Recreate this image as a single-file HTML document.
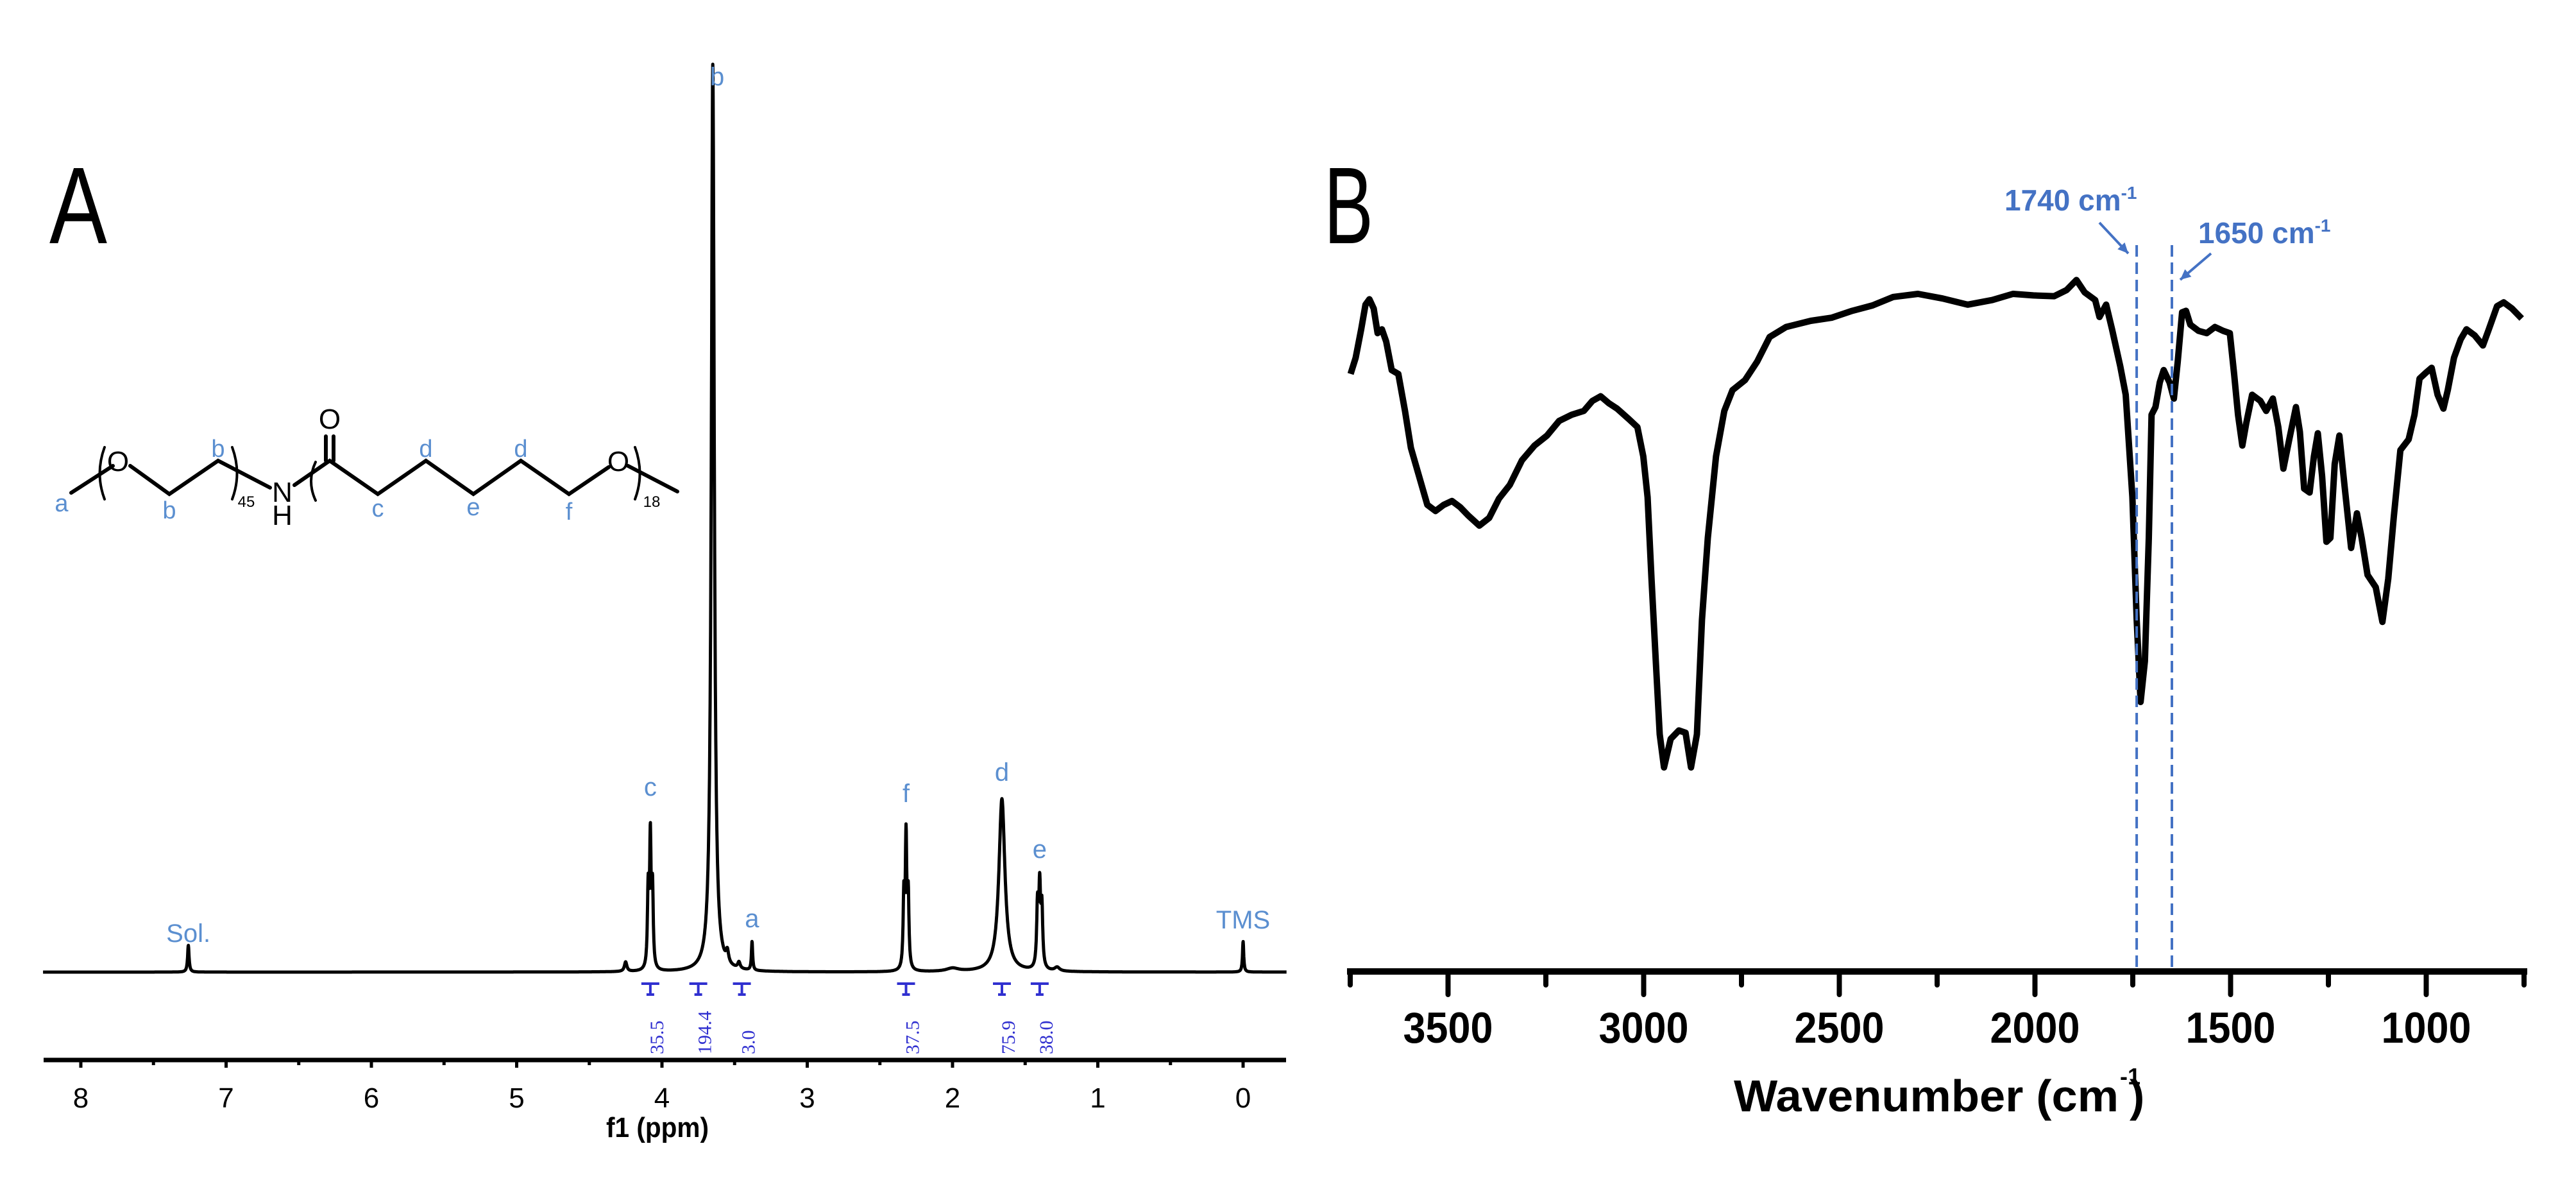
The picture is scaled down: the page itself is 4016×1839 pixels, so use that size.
<!DOCTYPE html>
<html><head><meta charset="utf-8"><style>
html,body{margin:0;padding:0;background:#fff;}
svg{display:block;font-family:"Liberation Sans",sans-serif;}
</style></head><body>
<svg id="fig" width="4016" height="1839" viewBox="0 0 4016 1839" xmlns="http://www.w3.org/2000/svg">
<rect width="4016" height="1839" fill="#fff"/>
<text x="77" y="379" font-size="170" textLength="90" lengthAdjust="spacingAndGlyphs">A</text>
<text x="2064" y="379" font-size="170" textLength="77" lengthAdjust="spacingAndGlyphs">B</text>

<g stroke="#000" stroke-width="6" fill="none" stroke-linecap="round">
<polyline points="111,768 176,726"/>
<polyline points="203,726 264,770 340,718 421,760"/>
<polyline points="459,756 514,718 589,770 664,718 738,770 812,718 887,770 949,728"/>
<line x1="979" y1="726" x2="1056" y2="766"/>
<line x1="508" y1="718" x2="508" y2="680"/><line x1="520" y1="718" x2="520" y2="680"/>
<path d="M163,697 Q148,738 163,778" stroke-width="4"/>
<path d="M362,697 Q377,738 362,778" stroke-width="4"/>
<path d="M492,720 Q478,750 492,780" stroke-width="4"/>
<path d="M990,697 Q1005,738 990,778" stroke-width="4"/>
</g>
<g font-size="44" text-anchor="middle">
<text x="184" y="734">O</text><text x="440" y="782">N</text><text x="440" y="818">H</text>
<text x="514" y="668">O</text><text x="964" y="734">O</text>
<text x="384" y="790" font-size="24">45</text><text x="1016" y="790" font-size="24">18</text>
</g>
<g font-size="38" fill="#5b8fd0" text-anchor="middle">
<text x="96" y="797">a</text><text x="264" y="808">b</text><text x="340" y="712">b</text>
<text x="589" y="805">c</text><text x="664" y="712">d</text><text x="738" y="803">e</text>
<text x="812" y="712">d</text><text x="887" y="810">f</text>
</g>

<g id="nmr"></g>
<g id="ir"></g>
</svg>
<script>
const NS="http://www.w3.org/2000/svg";
// ---- NMR data ----
const nmrPeakPpm=[7.26,4.25,4.095,4.08,4.065,3.65,3.55,3.47,3.38,2.335,2.32,2.305,2.0,1.66,1.415,1.40,1.385,1.28,0.0];
const nmrPeakHeight=[42,15,120,200,120,1417,18,10,45,110,200,110,5,270,95,120,90,6,48];
const nmrPeakWidth=[0.006,0.01,0.006,0.006,0.006,0.012,0.01,0.01,0.005,0.006,0.006,0.006,0.05,0.025,0.007,0.007,0.007,0.02,0.005];
const nmrTicks=[8,7,6,5,4,3,2,1,0];
const nmrPeakLabels=["Sol.","c","b","a","f","d","e","TMS"];
const nmrPeakLabelPpm=[7.26,4.08,3.62,3.38,2.32,1.66,1.40,0.0];
const nmrPeakLabelHeight=[47,275,1382,70,265,298,178,68];
const integralValues=["35.5","194.4","3.0","37.5","75.9","38.0"];
const integralPpm=[4.08,3.75,3.45,2.32,1.66,1.40];
// ---- IR data ----
const irWavenumber=[3749,3736,3722,3711,3701,3690,3680,3669,3658,3644,3627,3610,3595,3574,3553,3532,3511,3490,3469,3448,3420,3395,3370,3342,3311,3279,3247,3216,3184,3153,3131,3110,3089,3068,3037,3016,3001,2990,2980,2969,2959,2948,2931,2910,2893,2879,2864,2851,2836,2815,2794,2773,2741,2710,2678,2636,2573,2520,2467,2415,2362,2299,2236,2172,2109,2056,2004,1951,1919,1894,1873,1846,1835,1818,1803,1782,1768,1751,1740,1730,1719,1709,1702,1692,1681,1671,1656,1645,1635,1624,1614,1603,1582,1561,1540,1519,1502,1491,1481,1470,1460,1445,1424,1409,1392,1378,1365,1350,1333,1323,1312,1298,1287,1277,1266,1255,1245,1234,1222,1209,1192,1177,1165,1150,1129,1112,1097,1083,1066,1045,1030,1017,1000,986,971,956,945,929,912,897,876,855,840,819,802,781,756];
const irTransmittance=[77.6,79.7,83.4,86.6,87.3,86.1,82.9,83.4,81.8,78.1,77.6,72.8,68.0,64.3,60.6,59.8,60.6,61.1,60.3,59.2,57.9,58.9,61.4,63.2,66.4,68.3,69.6,71.5,72.3,72.8,74.1,74.7,73.8,73.1,71.7,70.7,66.9,61.6,51.0,40.3,30.8,26.5,30.2,31.3,31.0,26.5,30.8,45.7,56.3,66.9,72.8,75.5,76.8,79.2,82.4,83.7,84.5,84.9,85.8,86.5,87.6,88.0,87.4,86.6,87.2,88.0,87.8,87.7,88.5,89.8,88.2,87.2,85.0,86.6,83.4,78.6,74.9,61.6,45.7,35.0,40.3,56.3,72.3,73.3,76.5,78.1,76.5,74.4,79.2,85.6,85.8,84.0,83.2,82.9,83.7,83.2,82.9,77.6,72.3,68.3,71.2,74.9,74.1,72.8,74.4,70.7,65.3,69.1,73.3,70.1,62.7,62.2,66.9,69.9,64.3,55.8,56.3,65.9,69.6,63.2,55.0,59.5,56.3,51.5,49.9,45.4,51.0,59.0,67.7,69.1,72.3,77.0,77.8,78.4,74.9,73.1,75.5,79.7,82.1,83.4,82.6,81.3,83.4,86.4,86.9,86.1,84.8];
const irTicks=[3500,3000,2500,2000,1500,1000];
const irMinorTicks=[3750,3250,2750,2250,1750,1250,750];
const irMarkers=[1740,1650];
const irMarkerLabels=["1740 cm","1650 cm"];

function el(tag,attrs,parent,text){const e=document.createElementNS(NS,tag);for(const k in attrs)e.setAttribute(k,attrs[k]);if(text!==undefined)e.textContent=text;parent.appendChild(e);return e;}

// NMR axes
const nmr=document.getElementById('nmr');
const NB=1515;
const AX=1652;
const xP=p=>1938-226.5*p;
const yH=h=>NB-h;
let d="";
for(let p=8.26;p>=-0.3;p-=0.0015){let s=0;for(let i=0;i<nmrPeakPpm.length;i++){const w=nmrPeakWidth[i],dp=p-nmrPeakPpm[i];s+=nmrPeakHeight[i]*w*w/(dp*dp+w*w);}d+=(d?"L":"M")+xP(p).toFixed(1)+","+yH(s).toFixed(1);}
let e=el('path',{d:d,fill:'none',stroke:'#000','stroke-width':5,'stroke-linejoin':'round'},nmr);


e=el('line',{x1:68,y1:AX,x2:2005,y2:AX,stroke:'#000','stroke-width':7},nmr);


for(let i=0;i<nmrTicks.length;i++){const x=xP(nmrTicks[i]);
 e=el('line',{x1:x,y1:AX,x2:x,y2:AX+12,stroke:'#000','stroke-width':5},nmr);
 
 
 if(nmrTicks[i]>0){e=el('line',{x1:xP(nmrTicks[i]-0.5),y1:AX,x2:xP(nmrTicks[i]-0.5),y2:AX+8,stroke:'#000','stroke-width':5},nmr);
 
 }
 e=el('text',{x:x,y:1726,'font-size':44,'text-anchor':'middle'},nmr,String(nmrTicks[i]));
 
 }
e=el('text',{x:1025,y:1772,'font-size':44,'font-weight':'bold','text-anchor':'middle',textLength:160,lengthAdjust:'spacingAndGlyphs'},nmr,'f1 (ppm)');


for(let i=0;i<nmrPeakLabels.length;i++){
 e=el('text',{x:xP(nmrPeakLabelPpm[i]),y:yH(nmrPeakLabelHeight[i]),'font-size':40,fill:'#5b8fd0','text-anchor':'middle'},nmr,nmrPeakLabels[i]);
 
 }
for(let i=0;i<integralValues.length;i++){const x=xP(integralPpm[i]);
 e=el('path',{d:`M${x-14},1533 H${x+14} M${x},1533 V1550 M${x-6},1550 H${x+6}`,stroke:'#3030d0','stroke-width':4,fill:'none'},nmr);
 
 
 e=el('text',{x:0,y:0,'font-size':30,'font-family':'Liberation Serif, serif',fill:'#3030d0',transform:`translate(${x+20},1643) rotate(-90)`},nmr,integralValues[i]);
 
 }

// IR
const ir=document.getElementById('ir');
const IB=1514;
const xW=w=>2105+(3750-w)*0.61;
const yT=t=>IB-t*12;
e=el('line',{x1:2100,y1:IB,x2:3940,y2:IB,stroke:'#000','stroke-width':10},ir);


for(const t of irMinorTicks){e=el('line',{x1:xW(t),y1:IB,x2:xW(t),y2:1535,stroke:'#000','stroke-width':8,'stroke-linecap':'round'},ir);
 
 }
for(const t of irTicks){e=el('line',{x1:xW(t),y1:IB,x2:xW(t),y2:1550,stroke:'#000','stroke-width':8,'stroke-linecap':'round'},ir);
 
 
 e=el('text',{x:xW(t),y:1625,'font-size':68,'font-weight':'bold','text-anchor':'middle',textLength:140,lengthAdjust:'spacingAndGlyphs'},ir,String(t));
 
 }
e=el('text',{x:2703,y:1732,'font-size':70,'font-weight':'bold',textLength:600,lengthAdjust:'spacingAndGlyphs'},ir,'Wavenumber (cm');


e=el('text',{x:3305,y:1690,'font-size':36,'font-weight':'bold'},ir,'-1');


e=el('text',{x:3320,y:1732,'font-size':70,'font-weight':'bold'},ir,')');


let pd="";
for(let i=0;i<irWavenumber.length;i++){pd+=(i?"L":"M")+xW(irWavenumber[i]).toFixed(1)+","+yT(irTransmittance[i]).toFixed(1);}
e=el('path',{d:pd,fill:'none',stroke:'#000','stroke-width':10,'stroke-linejoin':'round'},ir);


for(let i=0;i<irMarkers.length;i++){const x=xW(irMarkers[i]);
 e=el('line',{x1:x,y1:382,x2:x,y2:IB,stroke:'#4472c4','stroke-width':4,'stroke-dasharray':'18,9'},ir);
 
 }
const lbl=[[3125,328,3273,347,3318,395],[3427,379,3447,395,3399,436]];
for(let i=0;i<irMarkerLabels.length;i++){const L=lbl[i];
 const t=el('text',{x:L[0],y:L[1],'font-size':46,'font-weight':'bold',fill:'#4472c4'},ir);
 
 
 el('tspan',{},t,irMarkerLabels[i]);el('tspan',{dy:-18,'font-size':28},t,'-1');
 e=el('line',{x1:L[2],y1:L[3],x2:L[4],y2:L[5],stroke:'#4472c4','stroke-width':4},ir);
 
 
 const ang=Math.atan2(L[5]-L[3],L[4]-L[2]);const a1=ang+2.7,a2=ang-2.7;
 e=el('polygon',{points:`${L[4]},${L[5]} ${L[4]+18*Math.cos(a1)},${L[5]+18*Math.sin(a1)} ${L[4]+18*Math.cos(a2)},${L[5]+18*Math.sin(a2)}`,fill:'#4472c4'},ir);
 
 }
</script>
</body></html>
